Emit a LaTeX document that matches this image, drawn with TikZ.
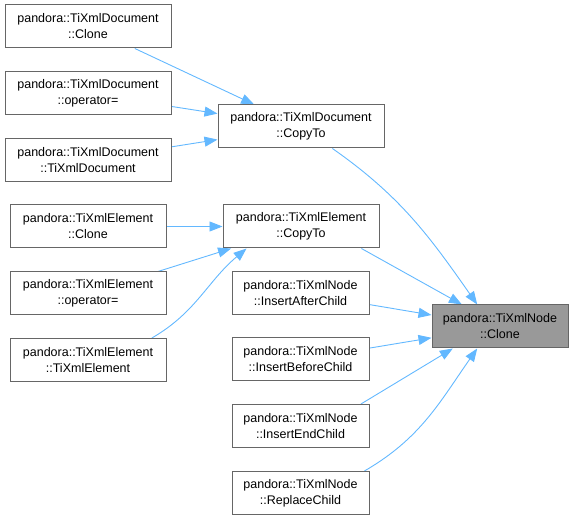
\documentclass[tikz,border=0pt]{standalone}
\usepackage{fontspec}
\setmainfont{Liberation Sans}
\usepackage{tikz}
\usetikzlibrary{arrows.meta}
\pgfdeclarelayer{edgelayer}
\pgfdeclarelayer{nodelayer}
\pgfsetlayers{edgelayer,nodelayer,main}
\definecolor{edgeblue}{HTML}{63B8FF}
\definecolor{boxgray}{HTML}{666666}
\definecolor{selfgray}{HTML}{999999}
\tikzstyle{funcnode}=[rectangle, fill=white, draw=boxgray, line width=1pt, inner sep=0pt, minimum height=43pt, align=center, font=\fontsize{12.5}{16}\selectfont]
\tikzstyle{selfnode}=[funcnode, fill=selfgray]
\tikzstyle{blueedge}=[draw=edgeblue, line width=0.9pt, -{Triangle[length=13pt,width=10pt]}]

\begin{document}
\begin{tikzpicture}[x=1pt, y=1pt]
					\useasboundingbox (0,0) rectangle (574,520);
					\begin{pgfonlayer}{nodelayer}
						\node [style=funcnode, minimum width=166pt] (1) at (88, 493.5) {pandora::TiXmlDocument\\::Clone};
						\node [style=funcnode, minimum width=166pt] (2) at (88, 426.5) {pandora::TiXmlDocument\\::operator=};
						\node [style=funcnode, minimum width=166pt] (3) at (88, 360) {pandora::TiXmlDocument\\::TiXmlDocument};
						\node [style=funcnode, minimum width=166pt] (4) at (301, 393.5) {pandora::TiXmlDocument\\::CopyTo};
						\node [style=funcnode, minimum width=156pt] (5) at (88, 293.5) {pandora::TiXmlElement\\::Clone};
						\node [style=funcnode, minimum width=156pt] (6) at (88, 226.5) {pandora::TiXmlElement\\::operator=};
						\node [style=funcnode, minimum width=156pt] (7) at (88, 160) {pandora::TiXmlElement\\::TiXmlElement};
						\node [style=funcnode, minimum width=156pt] (8) at (301, 293.5) {pandora::TiXmlElement\\::CopyTo};
						\node [style=funcnode, minimum width=137pt] (9) at (300.5, 227) {pandora::TiXmlNode\\::InsertAfterChild};
						\node [style=funcnode, minimum width=137pt] (10) at (300.5, 160.5) {pandora::TiXmlNode\\::InsertBeforeChild};
						\node [style=funcnode, minimum width=137pt] (11) at (300.5, 94) {pandora::TiXmlNode\\::InsertEndChild};
						\node [style=funcnode, minimum width=137pt] (12) at (300.5, 27) {pandora::TiXmlNode\\::ReplaceChild};
						\node [style=selfnode, minimum width=136pt] (13) at (500, 193.5) {pandora::TiXmlNode\\::Clone};
					\end{pgfonlayer}
					\begin{pgfonlayer}{edgelayer}
						\draw [style=blueedge] (1) to (4);
						\draw [style=blueedge] (2) to (4);
						\draw [style=blueedge] (3) to (4);
						\draw [style=blueedge] (5) to (8);
						\draw [style=blueedge] (6) to (8);
						\draw [style=blueedge] (7.19) to[out=30, in=220] (8.202);
						\draw [style=blueedge] (4.325) to[out=-35, in=125] (13.136);
						\draw [style=blueedge] (8.340) to (13.150);
						\draw [style=blueedge] (9) to (13);
						\draw [style=blueedge] (10) to (13);
						\draw [style=blueedge] (11.20) to (13.205);
						\draw [style=blueedge] (12.19) to[out=30, in=235] (13.224);
					\end{pgfonlayer}
				\end{tikzpicture}
\end{document}
